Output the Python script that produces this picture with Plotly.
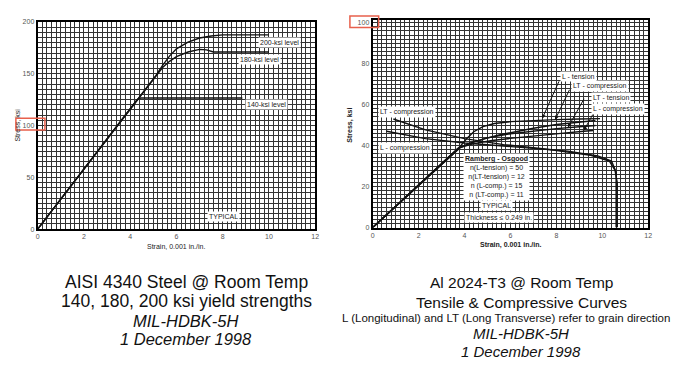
import plotly.graph_objects as go

W, H = 682, 380

# ---------------- data: left chart (AISI 4340 steel) ----------------
steel_140_strain = [0, 4.3, 4.45, 4.6, 8.85]
steel_140_stress = [0, 125.0, 126.5, 126.5, 126.5]
steel_180_strain = [0, 5.1, 5.4, 5.7, 6.0, 6.5, 7.0, 7.3, 7.6, 10.0]
steel_180_stress = [0, 148, 156, 162, 166.5, 171, 173.5, 173, 171, 171]
steel_200_strain = [0, 5.1, 5.4, 5.7, 6.0, 6.5, 7.0, 7.5, 8.0, 10.0]
steel_200_stress = [0, 148, 158, 167, 174, 180.5, 184.5, 186.5, 187.5, 187.5]
left_xticks = [0, 2, 4, 6, 8, 10, 12]
left_yticks = [0, 50, 100, 150, 200]

# ---------------- data: right chart (Al 2024-T3) ----------------
l_tension_strain = [0, 3.8, 4.1, 4.4, 4.8, 5.3, 6.0, 7.0, 8.0, 9.0, 9.9]
l_tension_stress = [0, 39.5, 43.5, 46.8, 49.3, 50.8, 51.7, 52.3, 52.7, 53.0, 53.2]
lt_comp_strain = [0, 3.7, 4.2, 4.8, 5.5, 6.2, 7.0, 8.0, 9.0, 9.7]
lt_comp_stress = [0, 38.5, 41.0, 43.2, 45.2, 46.9, 48.5, 50.3, 51.5, 52.3]
lt_tension_strain = [0, 3.8, 4.3, 5.0, 6.0, 7.0, 8.0, 9.0, 9.7]
lt_tension_stress = [0, 39.0, 41.5, 43.8, 45.8, 47.2, 48.3, 49.2, 49.8]
l_comp_strain = [0, 3.8, 4.4, 5.2, 6.2, 7.2, 8.2, 9.2, 9.6]
l_comp_stress = [0, 39.0, 41.0, 42.5, 43.8, 45.0, 46.0, 47.0, 47.4]
# compressive tangent-modulus curves
lt_comp_tan_x = [0.9, 2.3, 4.0, 5.7, 7.7, 9.5, 10.3, 10.55, 10.65, 10.65]
lt_comp_tan_y = [53.0, 47.7, 43.4, 40.5, 38.1, 35.3, 32.5, 28.0, 22.0, 0]
l_comp_tan_x = [0.6, 2.3, 4.0, 5.5, 7.0, 8.5, 9.8, 10.4, 10.6, 10.6]
l_comp_tan_y = [47.0, 43.4, 41.3, 40.0, 38.8, 37.3, 35.0, 32.5, 27.0, 0]
right_xticks = [0, 2, 4, 6, 8, 10, 12]
right_yticks = [0, 20, 40, 60, 80, 100]


def px_x(p):
    return p / W


def px_y(p):
    return 1 - p / H


fig = go.Figure()
line = dict(color="#111111", width=1.4)
for xs, ys in [(steel_140_strain, steel_140_stress),
               (steel_180_strain, steel_180_stress),
               (steel_200_strain, steel_200_stress)]:
    fig.add_trace(go.Scatter(x=xs, y=ys, mode="lines", line=line,
                             xaxis="x", yaxis="y", showlegend=False, hoverinfo="skip"))
for xs, ys in [(l_tension_strain, l_tension_stress),
               (lt_comp_strain, lt_comp_stress),
               (lt_tension_strain, lt_tension_stress),
               (l_comp_strain, l_comp_stress),
               (lt_comp_tan_x, lt_comp_tan_y),
               (l_comp_tan_x, l_comp_tan_y)]:
    fig.add_trace(go.Scatter(x=xs, y=ys, mode="lines", line=line,
                             xaxis="x2", yaxis="y2", showlegend=False, hoverinfo="skip"))

grid_col = "#333333"
tickfont = dict(family="Liberation Sans, Arial", size=7, color="#555555")
common = dict(showline=True, mirror=True, linecolor="#000000", linewidth=2,
              showgrid=True, gridcolor=grid_col, gridwidth=1, zeroline=False,
              ticks="", tickfont=tickfont, fixedrange=True)

fig.update_layout(
    width=W, height=H, autosize=False,
    margin=dict(l=0, r=0, t=0, b=0),
    paper_bgcolor="white", plot_bgcolor="white",
    xaxis=dict(domain=[px_x(36), px_x(316)], range=[0, 12], tickvals=left_xticks,
               minor=dict(dtick=0.2, tick0=0, showgrid=True, gridcolor=grid_col, gridwidth=1),
               anchor="y", **common),
    yaxis=dict(domain=[px_y(229.3), px_y(18.3)], range=[0, 200], tickvals=left_yticks,
               minor=dict(dtick=5, tick0=0, showgrid=True, gridcolor=grid_col, gridwidth=1),
               anchor="x", **common),
    xaxis2=dict(domain=[px_x(374), px_x(652)], range=[0, 12], tickvals=right_xticks,
                minor=dict(dtick=0.2, tick0=0, showgrid=True, gridcolor=grid_col, gridwidth=1),
                anchor="y2", **common),
    yaxis2=dict(domain=[px_y(227.7), px_y(16)], range=[0, 101.5], tickvals=right_yticks,
                minor=dict(dtick=2, tick0=0, showgrid=True, gridcolor=grid_col, gridwidth=1),
                anchor="x2", **common),
)

small = dict(family="Liberation Sans, Arial", size=7, color="#222222")
ann = []


def label(text, x, y, xref, yref, font=small, bg="white", **kw):
    ann.append(dict(text=text, x=x, y=y, xref=xref, yref=yref, showarrow=False,
                    xanchor="center", yanchor="middle",
                    font=font, bgcolor=bg, borderpad=1, **kw))


# left chart labels
label("200-ksi level", 10.46, 180.6, "x", "y")
label("180-ksi level", 9.58, 163.3, "x", "y")
label("140-ksi level", 9.88, 120.7, "x", "y")
label("TYPICAL", 8.02, 12.6, "x", "y")
label("Strain, 0.001 in./in.", px_x(176), px_y(247.5), "paper", "paper", bg=None)
label("Stress, ksi", px_x(16), px_y(123), "paper", "paper", bg=None, textangle=-90)

# right chart labels
label("L - tension", 8.96, 73.7, "x2", "y2")
label("LT - compression", 9.90, 68.9, "x2", "y2")
label("LT - tension", 10.36, 63.6, "x2", "y2")
label("L - compression", 10.69, 58.0, "x2", "y2")
label("LT - compression", 1.51, 56.5, "x2", "y2")
label("L - compression", 1.41, 38.8, "x2", "y2")
label("<b><u>Ramberg - Osgood</u></b><br>n(L-tension) = 50<br>n(LT-tension) = 12"
      "<br>n (L-comp.) = 15<br>n (LT-comp.) = 11", 5.39, 24.8, "x2", "y2")
label("TYPICAL", 5.39, 10.9, "x2", "y2")
label("Thickness \u2264 0.249 in.", 5.52, 5.1, "x2", "y2")
label("<b>Strain, 0.001 in./in.</b>", px_x(514), px_y(245.7), "paper", "paper", bg=None)
label("<b>Stress, ksi</b>", px_x(351), px_y(123), "paper", "paper", bg=None, textangle=-90)

# leader arrows (tail at label, head at curve)
leaders = [((8.14, 72.1), (7.38, 53.2)), ((8.6, 68.0), (7.94, 52.6)),
           ((9.24, 63.6), (8.5, 48.8)), ((9.62, 55.9), (9.19, 47.3))]
for (tx, ty), (hx, hy) in leaders:
    ann.append(dict(text="", x=hx, y=hy, xref="x2", yref="y2", ax=tx, ay=ty,
                    axref="x2", ayref="y2", showarrow=True, arrowhead=2,
                    arrowsize=0.8, arrowwidth=1, arrowcolor="#111111"))

# captions
capL = dict(family="Liberation Sans, Arial", size=17.5, color="#111111")
capLi = dict(family="Liberation Sans, Arial", size=16.5, color="#111111")
capR = dict(family="Liberation Sans, Arial", size=15.5, color="#111111")
capRi = dict(family="Liberation Sans, Arial", size=15, color="#111111")
capsm = dict(family="Liberation Sans, Arial", size=11.5, color="#111111")
for text, y, f in [("AISI 4340 Steel @ Room Temp", 283, capL),
                   ("140, 180, 200 ksi yield strengths", 303, capL),
                   ("<i>MIL-HDBK-5H</i>", 323, capLi),
                   ("<i>1 December 1998</i>", 341, capLi)]:
    label(text, px_x(186), px_y(y), "paper", "paper", font=f, bg=None)
for text, y, f in [("Al 2024-T3 @ Room Temp", 284, capR),
                   ("Tensile & Compressive Curves", 304, capR),
                   ("<i>MIL-HDBK-5H</i>", 336, capRi),
                   ("<i>1 December 1998</i>", 354, capRi)]:
    label(text, px_x(524), px_y(y), "paper", "paper", font=f, bg=None)
label("L (Longitudinal) and LT (Long Transverse) refer to grain direction",
      px_x(508), px_y(319.5), "paper", "paper", font=capsm, bg=None)

fig.update_layout(annotations=ann)

# red highlight boxes
red = dict(color="#e8604c", width=1.5)
fig.add_shape(type="rect", xref="paper", yref="paper",
              x0=px_x(14), x1=px_x(43.3), y0=px_y(128.3), y1=px_y(116.3), line=red)
fig.add_shape(type="rect", xref="paper", yref="paper",
              x0=px_x(351), x1=px_x(380), y0=px_y(24), y1=px_y(12.3), line=red)

fig.write_html("out.html", config={"displayModeBar": False, "staticPlot": True},
               post_script="document.body.style.margin='0';"
               "document.body.style.overflow='hidden';")
